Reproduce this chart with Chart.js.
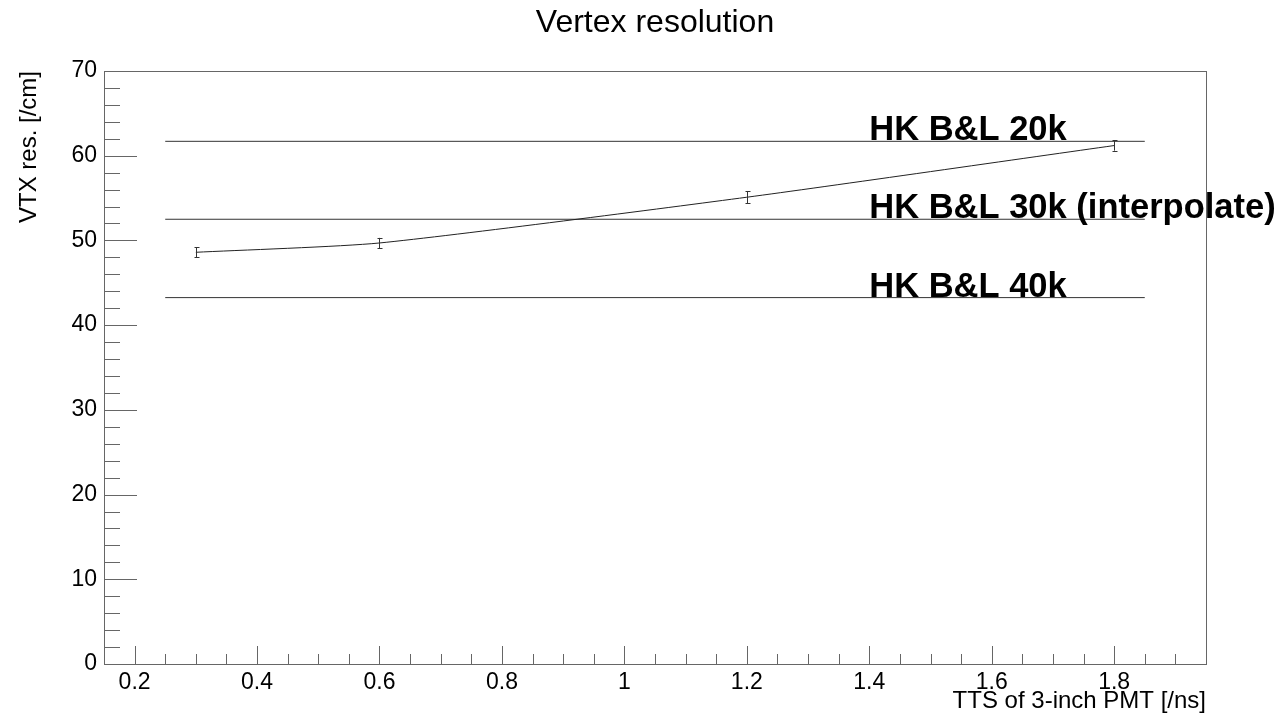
<!DOCTYPE html>
<html>
<head>
<meta charset="utf-8">
<script src="https://cdn.jsdelivr.net/npm/chart.js@4/dist/chart.umd.min.js"></script>
<style>
  html, body { margin: 0; padding: 0; background: #fff; }
  canvas { display: block; }
</style>
</head>
<body>
<canvas id="c" width="1282" height="716"></canvas>
<script>
// ---- data ----
const chartTitle = 'Vertex resolution';
const xTitle = 'TTS of 3-inch PMT [/ns]';
const yTitle = 'VTX res. [/cm]';
const tts = [0.3, 0.6, 1.2, 1.8];
const vtxRes = [48.6, 49.7, 55.1, 61.2];
const vtxErr = [0.6, 0.6, 0.7, 0.6];
const refLabels = ['HK B&L 20k', 'HK B&L 30k (interpolate)', 'HK B&L 40k'];
const refValues = [61.7, 52.5, 43.25];
const refRange = [0.25, 1.85];
const refLabelX = 1.4;
const xTickValues = [0.2, 0.4, 0.6, 0.8, 1.0, 1.2, 1.4, 1.6, 1.8];
const yTickValues = [0, 10, 20, 30, 40, 50, 60, 70];
const xRange = [0.15, 1.95];
const yRange = [0, 70];

const FONT = "'Liberation Sans', Arial, Helvetica, sans-serif";

const datasets = [{
  data: tts.map((x, i) => ({x: x, y: vtxRes[i]})),
  borderColor: '#222',
  borderWidth: 1,
  pointRadius: 0,
  tension: 0.2,
  fill: false
}];
refValues.forEach(v => {
  datasets.push({
    data: refRange.map(x => ({x: x, y: v})),
    borderColor: '#333',
    borderWidth: 1,
    pointRadius: 0,
    tension: 0,
    fill: false
  });
});

const rootPlugin = {
  id: 'rootStyle',
  afterDraw(chart) {
    const ctx = chart.ctx;
    const xs = chart.scales.x, ys = chart.scales.y;
    const a = chart.chartArea;
    ctx.save();
    // error bars
    ctx.strokeStyle = '#333';
    ctx.lineWidth = 1;
    tts.forEach((x, i) => {
      const px = Math.round(xs.getPixelForValue(x)) + 0.5;
      const y1 = ys.getPixelForValue(vtxRes[i] - vtxErr[i]);
      const y2 = ys.getPixelForValue(vtxRes[i] + vtxErr[i]);
      ctx.beginPath();
      ctx.moveTo(px, y1); ctx.lineTo(px, y2);
      ctx.moveTo(px - 2, Math.round(y1) + 0.5); ctx.lineTo(px + 3, Math.round(y1) + 0.5);
      ctx.moveTo(px - 2, Math.round(y2) + 0.5); ctx.lineTo(px + 3, Math.round(y2) + 0.5);
      ctx.stroke();
    });
    // frame
    ctx.strokeStyle = '#666';
    ctx.strokeRect(Math.round(a.left) + 0.5, Math.round(a.top) + 0.5,
                   Math.round(a.right - a.left), Math.round(a.bottom - a.top));
    // x ticks
    ctx.beginPath();
    for (let k = 0; ; k++) {
      const v = +(xRange[0] + k * 0.05).toFixed(4);
      if (v > xRange[1] + 1e-9) break;
      const major = Math.abs(v * 5 - Math.round(v * 5)) < 1e-6;
      const px = Math.round(xs.getPixelForValue(v)) + 0.5;
      ctx.moveTo(px, a.bottom);
      ctx.lineTo(px, a.bottom - (major ? 18 : 10));
    }
    // y ticks
    for (let v = yRange[0]; v <= yRange[1]; v += 2) {
      const major = v % 10 === 0;
      const py = Math.round(ys.getPixelForValue(v)) + 0.5;
      ctx.moveTo(a.left, py);
      ctx.lineTo(a.left + (major ? 33 : 16), py);
    }
    ctx.stroke();
    // reference labels
    ctx.fillStyle = '#000';
    ctx.font = 'bold 34.5px ' + FONT;
    ctx.textAlign = 'left';
    ctx.textBaseline = 'alphabetic';
    refLabels.forEach((t, i) => {
      ctx.fillText(t, xs.getPixelForValue(refLabelX), ys.getPixelForValue(refValues[i]) - 1);
    });
    // title
    ctx.font = '32px ' + FONT;
    ctx.textAlign = 'center';
    ctx.fillText(chartTitle, (a.left + a.right) / 2, 32);
    ctx.restore();
  }
};

new Chart(document.getElementById('c'), {
  type: 'line',
  data: { datasets: datasets },
  options: {
    responsive: false,
    animation: false,
    layout: { padding: { left: 0, top: 71, right: 76, bottom: 0 } },
    plugins: { legend: { display: false }, tooltip: { enabled: false }, title: { display: false } },
    scales: {
      x: {
        type: 'linear',
        min: xRange[0], max: xRange[1],
        afterBuildTicks: s => { s.ticks = xTickValues.map(v => ({value: v})); },
        afterFit: s => { s.height = 52; },
        grid: { display: false, drawTicks: false },
        border: { display: false },
        ticks: {
          padding: 5,
          color: '#000',
          font: { family: FONT, size: 23 },
          callback: v => String(+v.toFixed(2)),
          maxRotation: 0, autoSkip: false
        },
        title: {
          display: true, text: xTitle, align: 'end', color: '#000',
          font: { family: FONT, size: 24 }, padding: { top: 0, bottom: 0 }
        }
      },
      y: {
        type: 'linear',
        min: yRange[0], max: yRange[1],
        afterBuildTicks: s => { s.ticks = yTickValues.map(v => ({value: v})); },
        afterFit: s => { s.width = 104; },
        grid: { display: false, drawTicks: false },
        border: { display: false },
        ticks: {
          padding: 7,
          color: '#000',
          font: { family: FONT, size: 23 },
          autoSkip: false
        },
        title: {
          display: true, text: yTitle, align: 'end', color: '#000',
          font: { family: FONT, size: 24 }, padding: { top: 15, bottom: 0 }
        }
      }
    }
  },
  plugins: [rootPlugin]
});
</script>
</body>
</html>
